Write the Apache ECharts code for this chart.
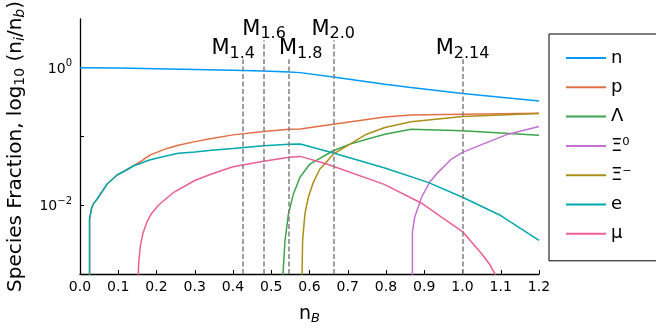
<!DOCTYPE html>
<html>
<head>
<meta charset="utf-8">
<script src="https://cdn.jsdelivr.net/npm/echarts@6/dist/echarts.min.js"></script>
<style>
html,body{margin:0;padding:0;background:#fff;}
#chart{width:656px;height:328px;}
</style>
</head>
<body>
<div id="chart"></div>
<script>
// ---- data (nB, fraction) ----
const xN = [0, 0.1, 0.2, 0.3, 0.4, 0.48, 0.547, 0.576, 0.662, 0.797, 0.865, 1.0, 1.1, 1.2];
const yN = [1.0, 0.99, 0.968, 0.94, 0.914, 0.893, 0.863, 0.847, 0.731, 0.573, 0.513, 0.42, 0.371, 0.328];

const xP = [0.025, 0.025, 0.03, 0.035, 0.045, 0.071, 0.097, 0.118, 0.14, 0.16, 0.17, 0.184, 0.2275, 0.257, 0.3, 0.344, 0.4, 0.48, 0.547, 0.576, 0.662, 0.797, 0.865, 1.0, 1.2];
const yP = [0.0004, 0.00634, 0.0089, 0.01047, 0.01233, 0.02037, 0.02748, 0.0317, 0.0375, 0.0436, 0.048, 0.054, 0.067, 0.0745, 0.0841, 0.0933, 0.1054, 0.118, 0.1276, 0.1288, 0.1507, 0.1923, 0.2056, 0.2104, 0.2178];

const xL = [0.529, 0.536, 0.545, 0.558, 0.575, 0.601, 0.619, 0.662, 0.706, 0.75, 0.797, 0.865, 1.0, 1.2];
const yL = [0.0007, 0.00307, 0.00748, 0.0146, 0.0255, 0.0397, 0.0454, 0.0619, 0.0774, 0.0912, 0.1079, 0.1276, 0.1205, 0.1045];

const xX0 = [0.869, 0.869, 0.875, 0.893, 0.914, 0.936, 0.958, 0.971, 1.0, 1.058, 1.119, 1.2];
const yX0 = [0.0004, 0.00406, 0.0067, 0.01306, 0.02153, 0.03006, 0.0397, 0.0469, 0.0586, 0.0793, 0.1079, 0.1396];

const xXm = [0.58, 0.582, 0.588, 0.597, 0.61, 0.627, 0.64, 0.662, 0.706, 0.749, 0.797, 0.865, 0.93, 1.0, 1.2];
const yXm = [0.0007, 0.00307, 0.00748, 0.01306, 0.02153, 0.0336, 0.0397, 0.0553, 0.0774, 0.1079, 0.1349, 0.163, 0.178, 0.195, 0.2153];

const xE = [0.025, 0.025, 0.03, 0.035, 0.045, 0.071, 0.097, 0.118, 0.14, 0.16, 0.17, 0.184, 0.2275, 0.257, 0.3, 0.344, 0.4, 0.48, 0.547, 0.576, 0.662, 0.797, 0.91, 1.0, 1.1, 1.2];
const yE = [0.0004, 0.00634, 0.0089, 0.01047, 0.01233, 0.02037, 0.02748, 0.0317, 0.0375, 0.0407, 0.0432, 0.0458, 0.0524, 0.0568, 0.0596, 0.0632, 0.067, 0.0731, 0.077, 0.0776, 0.0573, 0.0347, 0.0215, 0.01306, 0.00708, 0.00307];

const xMu = [0.152, 0.154, 0.158, 0.165, 0.175, 0.187, 0.205, 0.245, 0.3, 0.344, 0.4, 0.48, 0.547, 0.576, 0.645, 0.797, 0.893, 0.945, 1.0, 1.05, 1.07, 1.087];
const yMu = [0.00095, 0.00158, 0.0026, 0.00398, 0.00568, 0.00759, 0.01, 0.01542, 0.0229, 0.02844, 0.0363, 0.0435, 0.0497, 0.0513, 0.0397, 0.01995, 0.01069, 0.0067, 0.00414, 0.00197, 0.00141, 0.00095];

const speciesNames = ['n', 'p', 'Λ', 'Ξ⁰', 'Ξ⁻', 'e', 'μ'];

// vertical marker lines (maximum-mass densities)
const markX = [0.4266, 0.4813, 0.5458, 0.6621, 1.0];
const markSub = ['1.4', '1.6', '1.8', '2.0', '2.14'];
const markTop = [1.32, 2.51, 1.32, 2.51, 1.32];

const xTickLabels = ['0.0','0.1','0.2','0.3','0.4','0.5','0.6','0.7','0.8','0.9','1.0','1.1','1.2'];
// ------------------------------------------------------

const colors = ['#009AFA', '#E36F47', '#3EA44E', '#C371D2', '#AC8E18', '#00A9AD', '#ED5E93'];
const FONT = 'DejaVu Sans';
const markDx = [-10, 0, 12, 0, 0];

function pairs(xs, ys) { return xs.map((x, i) => [x, ys[i]]); }
const seriesData = [pairs(xN, yN), pairs(xP, yP), pairs(xL, yL), pairs(xX0, yX0), pairs(xXm, yXm), pairs(xE, yE), pairs(xMu, yMu)];

const series = seriesData.map((d, i) => ({
  name: speciesNames[i],
  type: 'line',
  data: d,
  symbol: 'none',
  showSymbol: false,
  clip: true,
  lineStyle: { color: colors[i], width: 1.5 },
  itemStyle: { color: colors[i] },
  emphasis: { disabled: true },
  z: 3
}));

series.push({
  name: 'marks',
  type: 'line',
  data: [],
  silent: true,
  z: 2,
  markLine: {
    silent: true,
    symbol: ['none', 'none'],
    animation: false,
    lineStyle: { color: '#808080', width: 1.5, type: [5, 2.5] },
    data: markX.map((x, i) => [
      { coord: [x, 0.001] },
      {
        coord: [x, markTop[i]],
        label: {
          show: true,
          position: 'end',
          distance: 0,
          offset: [markDx[i], 0],
          formatter: '{m|M}{s|' + markSub[i] + '}',
          rich: {
            m: { fontSize: 21, lineHeight: 22, fontFamily: FONT, color: '#000' },
            s: { fontSize: 16, lineHeight: 16, padding: [10, 0, 0, 0], fontFamily: FONT, color: '#000' }
          }
        }
      }
    ])
  }
});

const chart = echarts.init(document.getElementById('chart'), null, { renderer: 'canvas' });
chart.setOption({
  animation: false,
  backgroundColor: '#fff',
  textStyle: { fontFamily: FONT },
  grid: { left: 80, top: 19, right: 117, bottom: 54, containLabel: false, outerBoundsMode: 'none' },
  legend: {
    data: speciesNames,
    orient: 'vertical',
    left: 549,
    top: 34,
    padding: [15, 60, 18, 16],
    itemGap: 11.3,
    itemWidth: 40,
    itemHeight: 18,
    itemTextGap: 16,
    borderColor: '#000',
    borderWidth: 1,
    itemStyle: { opacity: 0 },
    lineStyle: { width: 2 },
    textStyle: { fontSize: 18, lineHeight: 18, color: '#000', fontFamily: FONT },
    selectedMode: false
  },
  xAxis: {
    type: 'value',
    min: 0,
    max: 1.2,
    interval: 0.1,
    name: 'n{s|B}',
    nameLocation: 'middle',
    nameGap: 29,
    nameTextStyle: {
      fontSize: 19, color: '#000', fontFamily: FONT,
      rich: { s: { fontSize: 13, fontStyle: 'italic', padding: [9, 0, 0, 0], fontFamily: FONT, color: '#000' } }
    },
    axisLine: { lineStyle: { color: '#000', width: 1.3 } },
    axisTick: { inside: true, length: 4, lineStyle: { color: '#000', width: 1 } },
    axisLabel: {
      color: '#000', fontSize: 14, margin: 6, fontFamily: FONT,
      formatter: (v) => xTickLabels[Math.round(v * 10)] || ''
    },
    splitLine: { show: false }
  },
  yAxis: {
    type: 'log',
    logBase: 10,
    min: 0.001,
    max: 5.1,
    name: 'Species Fraction, log{s|10} (n{si|i}/n{si|b})',
    nameLocation: 'middle',
    nameRotate: 90,
    nameGap: 53,
    nameTextStyle: {
      fontSize: 20, color: '#000', fontFamily: FONT,
      rich: {
        s: { fontSize: 14, padding: [8, 0, 0, 0], fontFamily: FONT, color: '#000' },
        si: { fontSize: 14, fontStyle: 'italic', padding: [8, 0, 0, 0], fontFamily: FONT, color: '#000' }
      }
    },
    axisLine: { show: true, lineStyle: { color: '#000', width: 1.3 } },
    axisTick: { show: true, inside: true, length: 4, customValues: [0.01, 0.1, 1], lineStyle: { color: '#000', width: 1 } },
    axisLabel: {
      color: '#000', fontSize: 14, margin: 8, fontFamily: FONT,
      customValues: [0.01, 1],
      formatter: (v) => {
        const e = Math.round(Math.log10(v));
        if (Math.abs(Math.log10(v) - e) > 1e-6) return '';
        const sup = e < 0 ? '−' + (-e) : String(e);
        return '{b|10}{p|' + sup + '}';
      },
      rich: {
        b: { fontSize: 14, lineHeight: 14, padding: [3, 0, 0, 0], fontFamily: FONT, color: '#000' },
        p: { fontSize: 10, lineHeight: 10, padding: [0, 0, 8, 0], fontFamily: FONT, color: '#000' }
      }
    },
    splitLine: { show: false },
    minorTick: { show: false }
  },
  series: series
});
</script>
</body>
</html>
